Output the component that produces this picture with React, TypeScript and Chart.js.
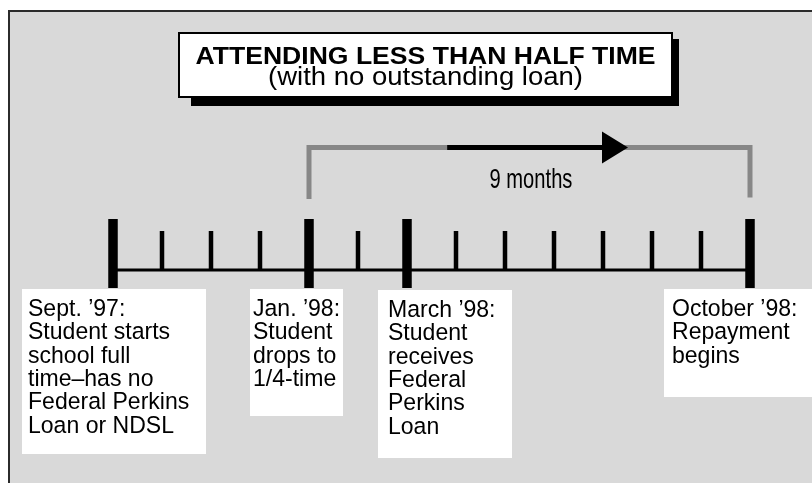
import React, { useEffect, useRef } from "react";
import { Chart, registerables } from "chart.js";

Chart.register(...registerables);

// ---------------- data ----------------
const months = [
  "Sept. ’97", "Oct. ’97", "Nov. ’97", "Dec. ’97", "Jan. ’98", "Feb. ’98", "March ’98",
  "April ’98", "May ’98", "June ’98", "July ’98", "Aug. ’98", "Sept. ’98", "October ’98",
];
const majorMonths = [0, 4, 6, 13];
const minorMonths = [1, 2, 3, 5, 7, 8, 9, 10, 11, 12];
const spanStartMonth = 4; // Jan. ’98
const spanEndMonth = 13; // October ’98
const arrowStartMonth = 6.82;
const arrowTipMonth = 10.51;
const spanLabel = "9 months";
const spanLabelMonth = 8.53;
const titleLines = ["ATTENDING LESS THAN HALF TIME", "(with no outstanding loan)"];
const eventTexts = [
  ["Sept. ’97:", "Student starts", "school full", "time–has no", "Federal Perkins", "Loan or NDSL"],
  ["Jan. ’98:", "Student", "drops to", "1/4-time"],
  ["March ’98:", "Student", "receives", "Federal", "Perkins", "Loan"],
  ["October ’98:", "Repayment", "begins"],
];

// ---------------- layout / style ----------------
const W = 812;
const H = 483;
const X0 = 113; // pixel of first month
const PX_PER_MONTH = 49;
const BASE_PX = 270; // pixel row of the timeline
const MINOR_TOP = 39;
const MAJOR_TOP = 51;
const MAJOR_BOTTOM = -18;
const BRACKET_Y = 122.5;
const BRACKET_LEFT_BOTTOM = 71;
const BRACKET_RIGHT_BOTTOM = 72.5;
const ARROW_HEAD_LEN = 26;
const ARROW_HEAD_HALF = 16;
const BG = "#d9d9d9";
const GRAY = "#878787";
const FONT = '"Liberation Sans", Arial, Helvetica, sans-serif';
const boxLayout = [
  { left: 22, right: 206, top: 289, bottom: 454, textX: 28 },
  { left: 250, right: 343, top: 289, bottom: 416, textX: 253 },
  { left: 378, right: 512, top: 290, bottom: 458, textX: 388 },
  { left: 664, right: 840, top: 289, bottom: 397, textX: 672 },
];

const tickSegments = (list: number[], top: number, bottom: number) =>
  list.flatMap((m) => [
    { x: m, y: bottom },
    { x: m, y: top },
    { x: m, y: null as any },
  ]);

const diagramPlugin = {
  id: "diagram",
  beforeDraw(chart: any) {
    const ctx = chart.ctx as CanvasRenderingContext2D;
    ctx.save();
    ctx.fillStyle = "#ffffff";
    ctx.fillRect(0, 0, W, H);
    ctx.fillStyle = BG;
    ctx.fillRect(9, 11, W, H);
    ctx.strokeStyle = "#2b2b2b";
    ctx.lineWidth = 2;
    ctx.strokeRect(9, 11, W + 40, H + 40);

    // title box with shadow
    ctx.fillStyle = "#000";
    ctx.fillRect(191, 39, 679 - 191, 106 - 39);
    ctx.fillStyle = "#fff";
    ctx.fillRect(178, 32, 673 - 178, 98 - 32);
    ctx.strokeStyle = "#000";
    ctx.lineWidth = 2;
    ctx.strokeRect(179, 33, 673 - 179 - 1, 98 - 33 - 1);

    const cx = (178 + 673) / 2;
    ctx.fillStyle = "#000";
    ctx.textAlign = "center";
    ctx.textBaseline = "alphabetic";
    ctx.save();
    ctx.translate(cx, 64);
    ctx.scale(1.155, 1);
    ctx.font = `bold 23px ${FONT}`;
    ctx.fillText(titleLines[0], 0, 0);
    ctx.restore();
    ctx.save();
    ctx.translate(cx, 85);
    ctx.scale(1.1, 1);
    ctx.font = `25px ${FONT}`;
    ctx.fillText(titleLines[1], 0, 0);
    ctx.restore();

    // event boxes
    ctx.textAlign = "left";
    eventTexts.forEach((lines, i) => {
      const b = boxLayout[i];
      ctx.fillStyle = "#fff";
      ctx.fillRect(b.left, b.top, b.right - b.left, b.bottom - b.top);
      ctx.fillStyle = "#000";
      lines.forEach((t, j) => {
        ctx.save();
        ctx.translate(b.textX, b.top + 27 + j * 23.3);
        ctx.scale(0.94, 1);
        ctx.font = `24.5px ${FONT}`;
        ctx.fillText(t, 0, 0);
        ctx.restore();
      });
    });
    ctx.restore();
  },
  afterDatasetsDraw(chart: any) {
    const ctx = chart.ctx as CanvasRenderingContext2D;
    const xs = chart.scales.x;
    const ys = chart.scales.y;
    ctx.save();
    const tx = xs.getPixelForValue(arrowTipMonth);
    const ty = ys.getPixelForValue(BRACKET_Y);
    ctx.fillStyle = "#000";
    ctx.beginPath();
    ctx.moveTo(tx, ty);
    ctx.lineTo(tx - ARROW_HEAD_LEN, ty - ARROW_HEAD_HALF);
    ctx.lineTo(tx - ARROW_HEAD_LEN, ty + ARROW_HEAD_HALF);
    ctx.closePath();
    ctx.fill();

    ctx.translate(xs.getPixelForValue(spanLabelMonth), ys.getPixelForValue(82));
    ctx.scale(0.72, 1);
    ctx.font = `28px ${FONT}`;
    ctx.textAlign = "center";
    ctx.textBaseline = "alphabetic";
    ctx.fillText(spanLabel, 0, 0);
    ctx.restore();
  },
};

export default function App() {
  const ref = useRef<HTMLCanvasElement | null>(null);
  useEffect(() => {
    if (!ref.current) return;
    const lineDs = (data: any[], color: string, width: number, order: number) => ({
      data,
      showLine: true,
      borderColor: color,
      backgroundColor: color,
      borderWidth: width,
      borderCapStyle: "butt",
      borderJoinStyle: "miter",
      pointRadius: 0,
      spanGaps: false,
      order,
    });
    const chart = new Chart(ref.current, {
      type: "scatter",
      data: {
        labels: months,
        datasets: [
          lineDs(
            [
              { x: spanStartMonth, y: BRACKET_LEFT_BOTTOM },
              { x: spanStartMonth, y: BRACKET_Y },
              { x: spanEndMonth, y: BRACKET_Y },
              { x: spanEndMonth, y: BRACKET_RIGHT_BOTTOM },
            ],
            GRAY,
            5,
            6
          ),
          lineDs(
            [
              { x: arrowStartMonth, y: BRACKET_Y },
              { x: arrowTipMonth - ARROW_HEAD_LEN / 2 / PX_PER_MONTH, y: BRACKET_Y },
            ],
            "#000",
            5,
            5
          ),
          lineDs(
            [
              { x: 0, y: 0 },
              { x: months.length - 1, y: 0 },
            ],
            "#000",
            3,
            4
          ),
          lineDs(tickSegments(minorMonths, MINOR_TOP, 0), "#000", 4.5, 3),
          lineDs(tickSegments(majorMonths, MAJOR_TOP, MAJOR_BOTTOM), "#000", 9.5, 2),
        ] as any,
      },
      options: {
        animation: false,
        responsive: false,
        events: [],
        layout: { padding: 0 },
        plugins: { legend: { display: false }, tooltip: { enabled: false }, title: { display: false } },
        scales: {
          x: { type: "linear", display: false, min: -X0 / PX_PER_MONTH, max: (W - X0) / PX_PER_MONTH },
          y: { type: "linear", display: false, min: BASE_PX - H, max: BASE_PX },
        },
      } as any,
      plugins: [diagramPlugin],
    });
    return () => chart.destroy();
  }, []);
  return (
    <div style={{ position: "fixed", left: 0, top: 0, width: W, height: H }}>
      <canvas ref={ref} width={W} height={H} style={{ display: "block", width: W, height: H }} />
    </div>
  );
}
